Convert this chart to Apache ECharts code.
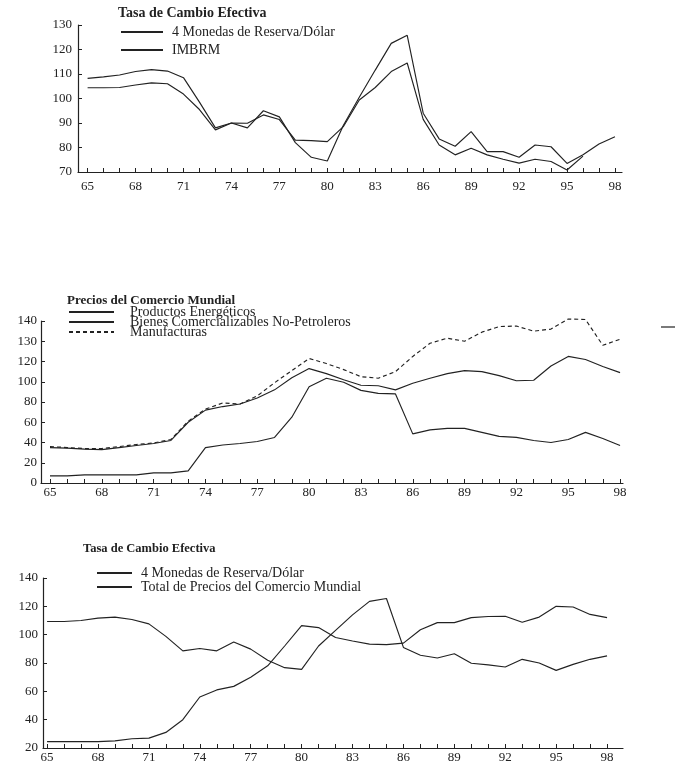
<!DOCTYPE html>
<html><head><meta charset="utf-8">
<script src="https://cdn.jsdelivr.net/npm/echarts@6/dist/echarts.min.js"></script>
<style>html,body{margin:0;padding:0;background:#fff}#c{width:675px;height:768px}</style>
</head><body><div id="c"></div>
<script>
// ---------- DATA ----------
const years = [1965,1966,1967,1968,1969,1970,1971,1972,1973,1974,1975,1976,1977,1978,1979,1980,1981,
               1982,1983,1984,1985,1986,1987,1988,1989,1990,1991,1992,1993,1994,1995,1996,1997,1998];
const xLabelYears = [1965,1968,1971,1974,1977,1980,1983,1986,1989,1992,1995,1998];

// Panel 1 : Tasa de Cambio Efectiva
const p1YTicks = [70,80,90,100,110,120,130];
const tc4Monedas = [108.2,108.8,109.6,111,111.8,111.2,108.5,98.5,88,90,88,95,92.5,82,76,74.5,89,
                    100.5,111.6,122.5,125.8,94,83.5,80.5,86.5,78.3,78.3,76,81,80.3,73.5,77,81.4,84.4];
const imbrm = [104.4,104.4,104.5,105.5,106.4,106,101.8,95.5,87.2,90,89.9,93.3,91.4,83,82.8,82.4,88.5,
               99.4,104.5,111,114.5,91.5,81,77,79.7,77,75.2,73.6,75.2,74.3,70.8,76.5,null,null];

// Panel 2 : Precios del Comercio Mundial
const p2YTickLabels = ['0','20','40','60','80','100','120','130','140'];
const energeticos = [7,7,8,8,8,8,10,10,12,35,37.5,39,41,45,65,95,103.5,99.5,91.5,88.5,88,48.5,52.5,
                     54,54,50,46,45,42,40,43,50,44,37];
const bienesNoPetroleros = [35,34.5,33.5,33,35,37,39,42,60,72,75.5,78,84,92,104,113,108,102,96.5,96,92,
                            98.5,103.5,108,111,110,106,101,101.5,115.5,125,122,115,109];
const manufacturas = [36,35,34,34,36,38,39.5,43,61,73,79,78,86,99,111,123,118,112,105,103.5,110,125,138,
                      143,140,149,154.5,155,150,152,162,161.5,136,142];

// Panel 3 : Tasa de Cambio Efectiva vs precios
const p3YTicks = [20,40,60,80,100,120,140];
const tc4MonedasP3 = [109.3,109.3,110,111.7,112.4,110.7,107.6,98.8,88.6,90.2,88.6,94.8,89.8,81.9,76.7,75.5,
                      92,103,114,123.5,125.5,91,85.5,83.5,86.5,79.8,78.7,77.2,82.6,80,74.8,79,82.6,85];
const totalComercio = [24.5,24.5,24.5,24.5,25,26.5,27,31,40,56,61,63.5,70,78,92,106.4,105,98,95.5,93.3,
                       93,94,103.5,108.5,108.5,112,112.8,113,108.8,112.4,120,119.5,114.3,112];

// ---------- CHART ----------
const INK = '#222';
const FONT = "'Liberation Serif','DejaVu Serif',serif";
const pairs = arr => years.map((y, i) => [y, arr[i]]).filter(p => p[1] !== null);

function xAx(gi, min, max, margin) {
  return {
    type: 'value', gridIndex: gi, min: min, max: max,
    axisLine: { show: true, onZero: false, lineStyle: { color: INK, width: 1.2 } },
    axisTick: { show: true, inside: true, length: 4, customValues: years, lineStyle: { color: INK, width: 1 } },
    axisLabel: { customValues: xLabelYears, formatter: v => String(Math.round(v)).slice(2),
                 margin: margin, fontFamily: FONT, fontSize: 13, color: INK },
    splitLine: { show: false }
  };
}
function yAx(gi, min, max, interval, margin, fmt) {
  return {
    type: 'value', gridIndex: gi, min: min, max: max, interval: interval,
    axisLine: { show: true, onZero: false, lineStyle: { color: INK, width: 1.2 } },
    axisTick: { show: true, inside: true, length: 4, lineStyle: { color: INK, width: 1 } },
    axisLabel: { margin: margin, fontFamily: FONT, fontSize: 13, color: INK, formatter: fmt },
    splitLine: { show: false }
  };
}
function line(name, xi, data, dashed) {
  return {
    name: name, type: 'line', xAxisIndex: xi, yAxisIndex: xi, data: pairs(data),
    symbol: 'none', clip: false, silent: true,
    lineStyle: { color: INK, width: 1.15, type: dashed ? [4, 3] : 'solid' },
    itemStyle: { color: INK }
  };
}
const legendText = { fontFamily: FONT, fontSize: 14, color: INK };
const noSymbol = { opacity: 0 };

const chart = echarts.init(document.getElementById('c'), null, { renderer: 'canvas' });
chart.setOption({
  animation: false,
  backgroundColor: '#fff',
  title: [
    { text: 'Tasa de Cambio Efectiva', left: 118, top: 6, padding: 0,
      textStyle: { fontFamily: FONT, fontSize: 14, fontWeight: 'bold', color: INK } },
    { text: 'Precios del Comercio Mundial', left: 67, top: 294, padding: 0,
      textStyle: { fontFamily: FONT, fontSize: 13, fontWeight: 'bold', color: INK } },
    { text: 'Tasa de Cambio Efectiva', left: 83, top: 542, padding: 0,
      textStyle: { fontFamily: FONT, fontSize: 12.5, fontWeight: 'bold', color: INK } }
  ],
  legend: [
    { data: ['4 Monedas de Reserva/Dólar', 'IMBRM'], orient: 'vertical', left: 120, top: 25,
      itemWidth: 42, itemHeight: 12, itemGap: 4, padding: 0, selectedMode: false, itemStyle: noSymbol,
      textStyle: Object.assign({ padding: [0, 0, 0, 4] }, legendText) },
    { data: ['Productos Energéticos', 'Bienes Comercializables No-Petroleros', 'Manufacturas'],
      orient: 'vertical', left: 68, top: 305, itemWidth: 45, itemHeight: 10, itemGap: -4, padding: 0,
      selectedMode: false, itemStyle: noSymbol,
      textStyle: Object.assign({ padding: [0, 0, 0, 11] }, legendText) },
    { data: ['4 Monedas de Reserva/Dólar ', 'Total de Precios del Comercio Mundial'],
      orient: 'vertical', left: 96, top: 566, itemWidth: 35, itemHeight: 10, itemGap: 0, padding: 0,
      selectedMode: false, itemStyle: noSymbol,
      textStyle: Object.assign({ padding: [0, 0, 0, 4] }, legendText) }
  ],
  grid: [
    { left: 78, width: 544, top: 25, height: 147 },
    { left: 41, width: 582, top: 321, height: 162 },
    { left: 43, width: 580, top: 578, height: 170 }
  ],
  xAxis: [
    xAx(0, 1964.4, 1998.44, 8),
    xAx(1, 1964.48, 1998.17, 3),
    xAx(2, 1964.76, 1998.94, 3)
  ],
  yAxis: [
    yAx(0, p1YTicks[0], p1YTicks[p1YTicks.length - 1], 10, 6),
    yAx(1, 0, 160, 20, 4, v => p2YTickLabels[Math.round(v / 20)]),
    yAx(2, p3YTicks[0], p3YTicks[p3YTicks.length - 1], 20, 5)
  ],
  series: [
    line('4 Monedas de Reserva/Dólar', 0, tc4Monedas),
    line('IMBRM', 0, imbrm),
    line('Productos Energéticos', 1, energeticos),
    line('Bienes Comercializables No-Petroleros', 1, bienesNoPetroleros),
    line('Manufacturas', 1, manufacturas, true),
    line('4 Monedas de Reserva/Dólar ', 2, tc4MonedasP3),
    line('Total de Precios del Comercio Mundial', 2, totalComercio)
  ],
  graphic: [
    { type: 'line', shape: { x1: 661, y1: 327, x2: 675, y2: 327 }, style: { stroke: INK, lineWidth: 1.2 } }
  ]
});
</script>
</body></html>
